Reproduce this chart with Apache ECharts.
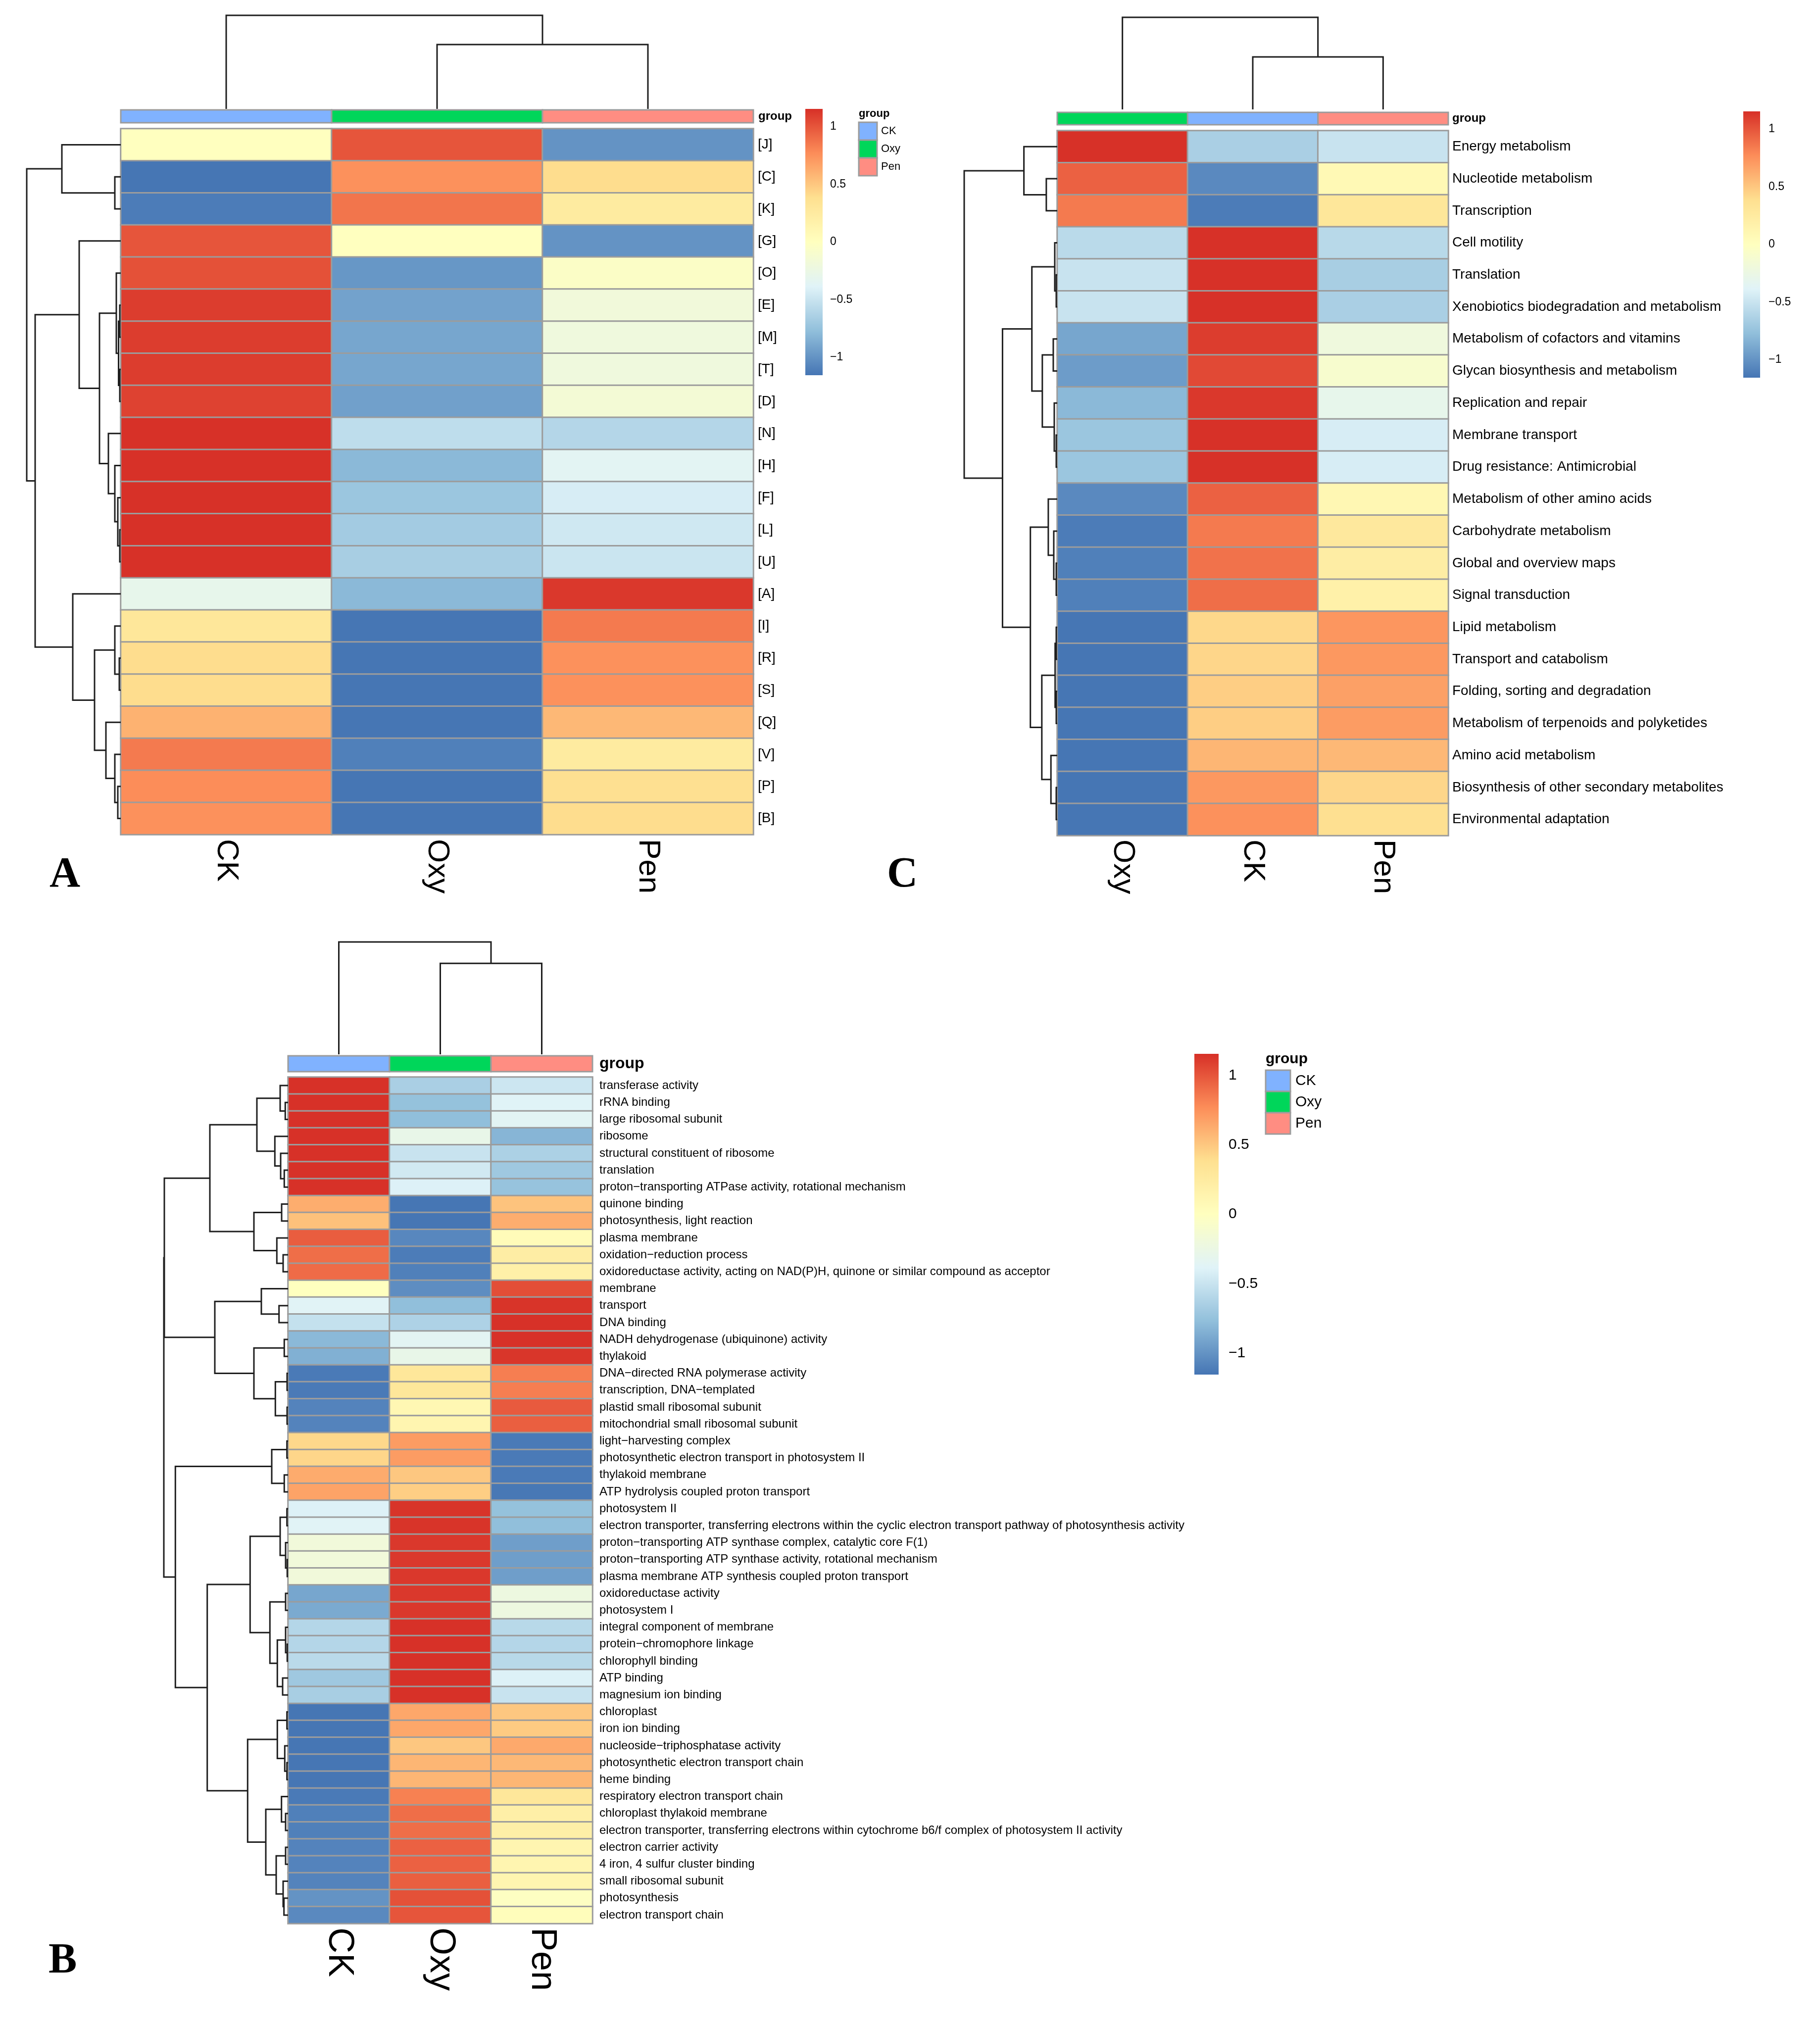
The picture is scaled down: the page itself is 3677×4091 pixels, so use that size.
<!DOCTYPE html>
<html>
<head>
<meta charset="utf-8">
<script src="https://cdn.jsdelivr.net/npm/echarts@6/dist/echarts.min.js"></script>
<style>html,body{margin:0;padding:0;background:#fff}#c{width:3677px;height:4091px}</style>
</head>
<body>
<div id="c"></div>
<script>
// ---------------- DATA ----------------
const GROUPS = ['CK', 'Oxy', 'Pen'];
const GROUP_COLORS = { CK: '#80B2FF', Oxy: '#00D65A', Pen: '#FF8D82' };
const PALETTE = ['#4575B4', '#91BFDB', '#E0F3F8', '#FFFFBF', '#FEE090', '#FC8D59', '#D73027'];
const VMIN = -1.1547, VMAX = 1.1547;
const CB_TICKS = [-1, -0.5, 0, 0.5, 1];

// Panel A
const colsA = ['CK', 'Oxy', 'Pen'];
const rowsA = ['[J]','[C]','[K]','[G]','[O]','[E]','[M]','[T]','[D]','[N]','[H]','[F]','[L]','[U]','[A]','[I]','[R]','[S]','[Q]','[V]','[P]','[B]'];
const aCK  = [0.0,-1.15,-1.12,1.0,1.02,1.1,1.1,1.1,1.08,1.15,1.15,1.15,1.15,1.15,-0.3,0.3,0.4,0.4,0.6,0.85,0.77,0.75];
const aOxy = [1.0,0.75,0.87,0.0,-0.98,-0.92,-0.9,-0.9,-0.93,-0.55,-0.8,-0.72,-0.68,-0.66,-0.8,-1.15,-1.15,-1.15,-1.15,-1.1,-1.15,-1.15];
const aPen = [-1.0,0.4,0.25,-1.0,-0.05,-0.18,-0.2,-0.2,-0.15,-0.6,-0.35,-0.43,-0.47,-0.49,1.12,0.85,0.75,0.75,0.57,0.25,0.38,0.4];
// dendrograms: [left, right, height]; leaves are row/column indices
const treeRowsA = [[0,[1,2,12],119],
  [[3,[[4,[[5,6,2],[7,8,2],4.5],9],[9,[10,[11,[12,13,2],6],12],25],43],84],
   [14,[[15,[16,17,3],12],[18,[19,[20,21,6],12],30],53],97],173],
  190];
const treeColsA = [0,[1,2,130],189];

// Panel C
const colsC = ['Oxy', 'CK', 'Pen'];
const rowsC = ['Energy metabolism','Nucleotide metabolism','Transcription','Cell motility','Translation',
  'Xenobiotics biodegradation and metabolism','Metabolism of cofactors and vitamins','Glycan biosynthesis and metabolism',
  'Replication and repair','Membrane transport','Drug resistance: Antimicrobial','Metabolism of other amino acids',
  'Carbohydrate metabolism','Global and overview maps','Signal transduction','Lipid metabolism','Transport and catabolism',
  'Folding, sorting and degradation','Metabolism of terpenoids and polyketides','Amino acid metabolism',
  'Biosynthesis of other secondary metabolites','Environmental adaptation'];
const cOxy = [1.15,0.95,0.85,-0.57,-0.5,-0.5,-0.9,-0.95,-0.8,-0.72,-0.72,-1.05,-1.12,-1.1,-1.1,-1.15,-1.15,-1.15,-1.15,-1.15,-1.15,-1.15];
const cCK  = [-0.65,-1.05,-1.12,1.15,1.15,1.15,1.1,1.05,1.12,1.15,1.15,0.95,0.85,0.88,0.9,0.42,0.43,0.47,0.47,0.58,0.72,0.75];
const cPen = [-0.5,0.08,0.3,-0.58,-0.66,-0.65,-0.2,-0.1,-0.3,-0.43,-0.43,0.1,0.28,0.22,0.18,0.73,0.72,0.68,0.7,0.57,0.43,0.38];
const treeRowsC = [[0,[1,2,22],67],
  [[[3,[4,5,2],5],[[6,7,8],[8,[9,10,2],6],30],51],
   [[11,[12,[13,14,2],7],18],[[[15,16,2],[17,18,2],4.3],[19,[20,21,2],12.7],31],54],
   110],
  187];
const treeColsC = [0,[1,2,106],186];

// Panel B
const colsB = ['CK', 'Oxy', 'Pen'];
const rowsB = ['transferase activity','rRNA binding','large ribosomal subunit','ribosome','structural constituent of ribosome',
  'translation','proton\u2212transporting ATPase activity, rotational mechanism','quinone binding','photosynthesis, light reaction',
  'plasma membrane','oxidation\u2212reduction process','oxidoreductase activity, acting on NAD(P)H, quinone or similar compound as acceptor',
  'membrane','transport','DNA binding','NADH dehydrogenase (ubiquinone) activity','thylakoid','DNA\u2212directed RNA polymerase activity',
  'transcription, DNA\u2212templated','plastid small ribosomal subunit','mitochondrial small ribosomal subunit','light\u2212harvesting complex',
  'photosynthetic electron transport in photosystem II','thylakoid membrane','ATP hydrolysis coupled proton transport','photosystem II',
  'electron transporter, transferring electrons within the cyclic electron transport pathway of photosynthesis activity',
  'proton\u2212transporting ATP synthase complex, catalytic core F(1)','proton\u2212transporting ATP synthase activity, rotational mechanism',
  'plasma membrane ATP synthesis coupled proton transport','oxidoreductase activity','photosystem I','integral component of membrane',
  'protein\u2212chromophore linkage','chlorophyll binding','ATP binding','magnesium ion binding','chloroplast','iron ion binding',
  'nucleoside\u2212triphosphatase activity','photosynthetic electron transport chain','heme binding','respiratory electron transport chain',
  'chloroplast thylakoid membrane','electron transporter, transferring electrons within cytochrome b6/f complex of photosystem II activity',
  'electron carrier activity','4 iron, 4 sulfur cluster binding','small ribosomal subunit','photosynthesis','electron transport chain'];
const bCK  = [1.15,1.15,1.15,1.15,1.15,1.15,1.15,0.62,0.53,0.97,0.90,0.91,0.0,-0.37,-0.52,-0.80,-0.85,-1.13,-1.13,-1.08,-1.08,
  0.42,0.43,0.63,0.67,-0.40,-0.37,-0.18,-0.18,-0.18,-0.90,-0.88,-0.60,-0.60,-0.57,-0.70,-0.66,-1.15,-1.15,-1.15,-1.15,-1.15,
  -1.13,-1.10,-1.10,-1.08,-1.08,-1.08,-1.00,-1.05];
const bOxy = [-0.65,-0.75,-0.77,-0.28,-0.50,-0.46,-0.40,-1.15,-1.15,-1.06,-1.12,-1.10,-1.03,-0.77,-0.63,-0.35,-0.28,0.30,0.30,0.10,0.12,
  0.70,0.70,0.50,0.47,1.14,1.14,1.12,1.12,1.12,1.12,1.12,1.15,1.15,1.15,1.15,1.15,0.65,0.65,0.50,0.58,0.58,
  0.82,0.90,0.90,0.95,0.95,0.96,1.02,1.00];
const bPen = [-0.48,-0.38,-0.36,-0.82,-0.64,-0.70,-0.74,0.52,0.62,0.05,0.22,0.19,1.03,1.14,1.15,1.15,1.13,0.83,0.83,0.98,0.96,
  -1.13,-1.13,-1.13,-1.14,-0.75,-0.77,-0.94,-0.94,-0.94,-0.22,-0.22,-0.58,-0.60,-0.58,-0.40,-0.50,0.50,0.48,0.64,0.57,0.58,
  0.30,0.20,0.20,0.12,0.12,0.12,-0.02,0.03];
const treeRowsB = [
  [[[[0,[1,2,5.7],16],[3,[4,[5,6,7.7],15],26.7],63],
    [[7,8,13],[9,[10,11,10],22.7],69],158],
   [[12,[13,14,18.3],54],[[15,16,7.7],[[17,18,2],[19,20,2],25.7],69],148],
   250],
  [[[21,22,2.3],[23,24,7.7],33],
   [[[[25,26,2.3],[27,[28,29,1.7],5],16],
     [[30,31,5],[[32,[33,34,1.7],5],[35,36,11],21.7],36.7],76.7],
    [[[37,38,2.3],[39,[40,41,2.3],6.7],21.7],
     [[42,[43,44,5],13.3],[[45,46,5],[47,[48,49,8.3],10],24],45],81.7],
    163.3],
   227.7],
  251];
const treeColsB = [0,[1,2,183],226];

// ---------------- LAYOUT / STYLE ----------------
const FONT = '"Liberation Sans", Arial, Helvetica, sans-serif';
const SERIF = '"Liberation Serif", "Times New Roman", serif';
const BORDER = '#9c9c9c';
const TREE_COLOR = '#1e1e1e';

const panels = [
  { cols: colsA, rows: rowsA, vals: { CK: aCK, Oxy: aOxy, Pen: aPen }, rowTree: treeRowsA, colTree: treeColsA,
    L: { hmLeft: 244, hmTop: 260, hmW: 1278, hmH: 1426, rowFont: 28, rowMargin: 9, gbTop: 222, gbH: 26, groupFont: 24, groupMargin: 10,
         cdTop: 31, cdBottom: 220, rdLeft: 54, colFont: 62, colMargin: 9,
         cb: { left: 1627, top: 220, w: 35, h: 538, font: 23, margin: 15 },
         legend: { left: 1735, top: 247, w: 37, h: 108, font: 22, margin: 8, titleLeft: 1735, titleTop: 219, titleFont: 22 },
         letter: { text: 'A', left: 100, top: 1726, font: 86 } } },
  { cols: colsC, rows: rowsC, vals: { Oxy: cOxy, CK: cCK, Pen: cPen }, rowTree: treeRowsC, colTree: treeColsC,
    L: { hmLeft: 2136, hmTop: 264, hmW: 790, hmH: 1424, rowFont: 28, rowMargin: 8, gbTop: 227, gbH: 25, groupFont: 24, groupMargin: 8,
         cdTop: 35, cdBottom: 221, rdLeft: 1948, colFont: 62, colMargin: 8,
         cb: { left: 3522, top: 225, w: 34, h: 538, font: 23, margin: 17 },
         legend: null,
         letter: { text: 'C', left: 1792, top: 1726, font: 86 } } },
  { cols: colsB, rows: rowsB, vals: { CK: bCK, Oxy: bOxy, Pen: bPen }, rowTree: treeRowsB, colTree: treeColsB,
    L: { hmLeft: 582, hmTop: 2176, hmW: 615, hmH: 1710, rowFont: 24, rowMargin: 14, gbTop: 2133, gbH: 32, groupFont: 32, groupMargin: 14,
         cdTop: 1903, cdBottom: 2130, rdLeft: 331, colFont: 72, colMargin: 8,
         cb: { left: 2413, top: 2129, w: 49, h: 648, font: 30, margin: 20 },
         legend: { left: 2557, top: 2162, w: 50, h: 129, font: 30, margin: 10, titleLeft: 2557, titleTop: 2125, titleFont: 30 },
         letter: { text: 'B', left: 98, top: 3920, font: 86 } } }
];

// ---------------- BUILD ----------------
const option = { animation: false, backgroundColor: '#fff', grid: [], xAxis: [], yAxis: [], series: [], visualMap: [], title: [] };
function addGrid(g) { option.grid.push(Object.assign({ containLabel: false, show: false }, g)); return option.grid.length - 1; }
function addX(a) { option.xAxis.push(a); return option.xAxis.length - 1; }
function addY(a) { option.yAxis.push(a); return option.yAxis.length - 1; }
const NOAXIS = { axisLine: { show: false }, axisTick: { show: false }, splitLine: { show: false } };

function treeMerges(tree) {
  const merges = [];
  function walk(n) {
    if (typeof n === 'number') return { pos: n, h: 0 };
    const a = walk(n[0]), b = walk(n[1]);
    merges.push([n[2], a.pos, b.pos, a.h, b.h]);
    return { pos: (a.pos + b.pos) / 2, h: n[2] };
  }
  const r = walk(tree);
  return { merges, rootH: r.h };
}
function fmtTick(v) { return (v < 0 ? '\u2212' : '') + Math.abs(v); }

panels.forEach(P => {
  const L = P.L;
  // heatmap
  const gH = addGrid({ left: L.hmLeft, top: L.hmTop, width: L.hmW, height: L.hmH });
  const xH = addX(Object.assign({ type: 'category', gridIndex: gH, data: P.cols, position: 'bottom',
    axisLabel: { interval: 0, rotate: -90, margin: L.colMargin, fontSize: L.colFont, fontFamily: FONT, color: '#000' } }, NOAXIS));
  const yH = addY(Object.assign({ type: 'category', gridIndex: gH, data: P.rows, inverse: true, position: 'right',
    axisLabel: { interval: 0, margin: L.rowMargin, fontSize: L.rowFont, fontFamily: FONT, color: '#000' } }, NOAXIS));
  const hdata = [];
  P.cols.forEach((c, ci) => P.vals[c].forEach((v, ri) => hdata.push([ci, ri, v])));
  option.series.push({ type: 'heatmap', xAxisIndex: xH, yAxisIndex: yH, data: hdata, silent: true, progressive: 0,
    itemStyle: { borderColor: BORDER, borderWidth: 3 } });
  option.visualMap.push({ type: 'continuous', show: false, min: VMIN, max: VMAX, dimension: 2,
    seriesIndex: option.series.length - 1, inRange: { color: PALETTE } });

  // group annotation bar
  const gG = addGrid({ left: L.hmLeft, top: L.gbTop, width: L.hmW, height: L.gbH });
  const xG = addX({ type: 'category', gridIndex: gG, data: P.cols, show: false });
  const yG = addY(Object.assign({ type: 'category', gridIndex: gG, data: ['group'], position: 'right',
    axisLabel: { margin: L.groupMargin, fontSize: L.groupFont, fontWeight: 'bold', fontFamily: FONT, color: '#000' } }, NOAXIS));
  option.series.push({ type: 'custom', xAxisIndex: xG, yAxisIndex: yG, silent: true,
    data: P.cols.map((c, i) => ({ value: [i, 0], itemStyle: { color: GROUP_COLORS[c] } })),
    renderItem: (params, api) => {
      const c = api.coord([api.value(0), api.value(1)]);
      const s = api.size([1, 1]);
      return { type: 'rect', shape: { x: c[0] - s[0] / 2, y: c[1] - s[1] / 2, width: s[0], height: s[1] },
        style: { fill: api.visual('color'), stroke: BORDER, lineWidth: 3 } };
    } });

  // row dendrogram
  const rt = treeMerges(P.rowTree);
  const gR = addGrid({ left: L.rdLeft, top: L.hmTop, width: L.hmLeft - L.rdLeft, height: L.hmH });
  const xR = addX({ type: 'value', gridIndex: gR, inverse: true, min: 0, max: rt.rootH, show: false });
  const yR = addY({ type: 'value', gridIndex: gR, inverse: true, min: -0.5, max: P.rows.length - 0.5, show: false });
  option.series.push({ type: 'custom', xAxisIndex: xR, yAxisIndex: yR, silent: true, clip: false, data: rt.merges,
    renderItem: (params, api) => {
      const h = api.value(0), p1 = api.value(1), p2 = api.value(2), h1 = api.value(3), h2 = api.value(4);
      return { type: 'polyline', shape: { points: [api.coord([h1, p1]), api.coord([h, p1]), api.coord([h, p2]), api.coord([h2, p2])] },
        style: { stroke: TREE_COLOR, lineWidth: 3, fill: null } };
    } });

  // column dendrogram
  const ct = treeMerges(P.colTree);
  const gD = addGrid({ left: L.hmLeft, top: L.cdTop, width: L.hmW, height: L.cdBottom - L.cdTop });
  const xD = addX({ type: 'value', gridIndex: gD, min: -0.5, max: P.cols.length - 0.5, show: false });
  const yD = addY({ type: 'value', gridIndex: gD, min: 0, max: ct.rootH, show: false });
  option.series.push({ type: 'custom', xAxisIndex: xD, yAxisIndex: yD, silent: true, clip: false, data: ct.merges,
    renderItem: (params, api) => {
      const h = api.value(0), p1 = api.value(1), p2 = api.value(2), h1 = api.value(3), h2 = api.value(4);
      return { type: 'polyline', shape: { points: [api.coord([p1, h1]), api.coord([p1, h]), api.coord([p2, h]), api.coord([p2, h2])] },
        style: { stroke: TREE_COLOR, lineWidth: 3, fill: null } };
    } });

  // colour bar
  const cb = L.cb;
  const gC = addGrid({ left: cb.left, top: cb.top, width: cb.w, height: cb.h });
  const xC = addX({ type: 'value', gridIndex: gC, min: 0, max: 1, show: false });
  const yC = addY(Object.assign({ type: 'value', gridIndex: gC, min: VMIN, max: VMAX, position: 'right',
    axisLabel: { customValues: CB_TICKS, formatter: fmtTick, margin: cb.margin, fontSize: cb.font, fontFamily: FONT, color: '#000' } }, NOAXIS));
  const stops = PALETTE.slice().reverse().map((col, i) => ({ offset: i / (PALETTE.length - 1), color: col }));
  option.series.push({ type: 'custom', xAxisIndex: xC, yAxisIndex: yC, silent: true, clip: false, data: [[0, VMIN, 1, VMAX]],
    renderItem: (params, api) => {
      const a = api.coord([api.value(0), api.value(3)]);
      const b = api.coord([api.value(2), api.value(1)]);
      return { type: 'rect', shape: { x: a[0], y: a[1], width: b[0] - a[0], height: b[1] - a[1] },
        style: { fill: new echarts.graphic.LinearGradient(0, 0, 0, 1, stops) } };
    } });

  // group legend
  if (L.legend) {
    const lg = L.legend;
    const gL = addGrid({ left: lg.left, top: lg.top, width: lg.w, height: lg.h });
    const xL = addX({ type: 'value', gridIndex: gL, min: 0, max: 1, show: false });
    const yL = addY(Object.assign({ type: 'category', gridIndex: gL, data: GROUPS, inverse: true, position: 'right',
      axisLabel: { margin: lg.margin, fontSize: lg.font, fontFamily: FONT, color: '#000' } }, NOAXIS));
    option.series.push({ type: 'custom', xAxisIndex: xL, yAxisIndex: yL, silent: true,
      data: GROUPS.map((g, i) => ({ value: [0.5, i], itemStyle: { color: GROUP_COLORS[g] } })),
      renderItem: (params, api) => {
        const c = api.coord([api.value(0), api.value(1)]);
        const s = api.size([1, 1]);
        return { type: 'rect', shape: { x: c[0] - s[0] / 2, y: c[1] - s[1] / 2, width: s[0], height: s[1] },
          style: { fill: api.visual('color'), stroke: BORDER, lineWidth: 3 } };
      } });
    option.title.push({ text: 'group', left: lg.titleLeft, top: lg.titleTop, padding: 0,
      textStyle: { fontSize: lg.titleFont, fontWeight: 'bold', fontFamily: FONT, color: '#000' } });
  }

  // panel letter
  option.title.push({ text: L.letter.text, left: L.letter.left, top: L.letter.top, padding: 0,
    textStyle: { fontSize: L.letter.font, fontWeight: 'bold', fontFamily: SERIF, color: '#000' } });
});

const chart = echarts.init(document.getElementById('c'), null, { renderer: 'canvas', width: 3677, height: 4091 });
chart.setOption(option);
</script>
</body>
</html>
